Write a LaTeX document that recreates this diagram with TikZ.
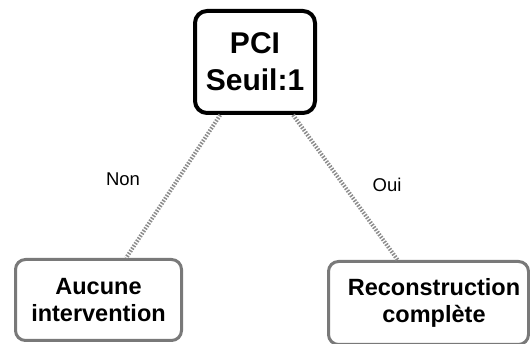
\documentclass[tikz,border=0pt]{standalone}
\usepackage{fontspec}
\setmainfont{Liberation Sans}
\begin{document}
\begin{tikzpicture}[x=1pt,y=1pt,
  topbox/.style={draw=black, line width=4pt, rounded corners=12pt, fill=white,
    inner sep=0pt, align=center, font=\bfseries\fontsize{30}{37}\selectfont},
  leafbox/.style={draw=gray!95!black, line width=3pt, rounded corners=10pt, fill=white,
    inner sep=0pt, align=center, font=\bfseries\fontsize{23.5}{27}\selectfont},
  link/.style={draw=gray!90, line width=4pt, dash pattern=on 1.5pt off 1.5pt},
  lbl/.style={font=\fontsize{18.5}{20}\selectfont, inner sep=0pt}]
\useasboundingbox (0,0) rectangle (530,-344);
\clip (0,0) rectangle (530,-344);
\node[topbox, minimum width=120pt, minimum height=102pt] (pci) at (255,-62) {PCI\\Seuil:1};
\node[leafbox, minimum width=166pt, minimum height=81pt] (non) at (98.5,-300) {Aucune\\intervention};
\node[leafbox, minimum width=200pt, minimum height=83pt] (oui) at (428.5,-303)
  {\hspace*{11pt}Reconstruction\\\hspace*{11pt}complète};
\draw[link] (pci) -- (non);
\draw[link] (pci) -- (oui);
\node[lbl] (lnon) at (123,-179) {Non};
\node[lbl] (loui) at (387,-185) {Oui};
\end{tikzpicture}
\end{document}
